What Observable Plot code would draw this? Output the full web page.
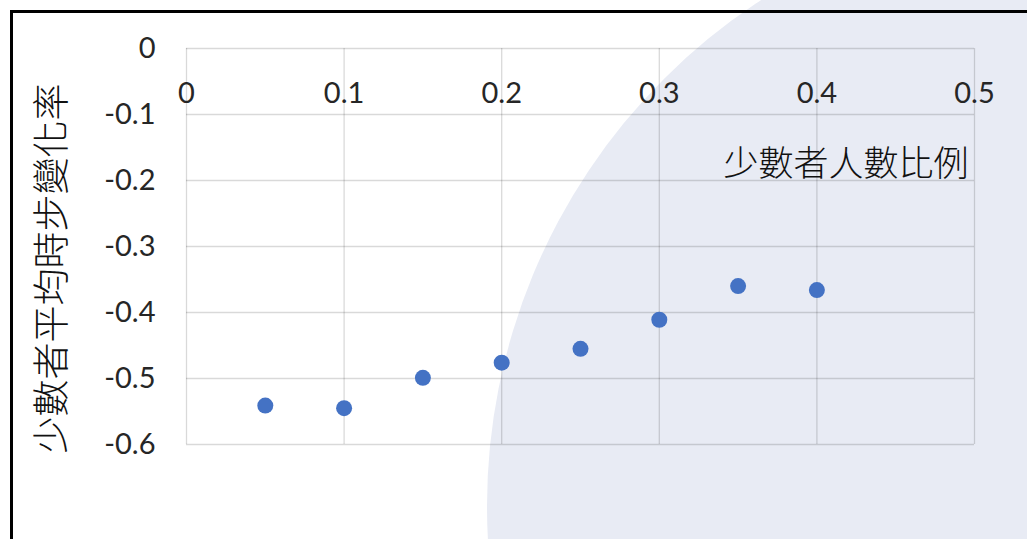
<!DOCTYPE html>
<html>
<head>
<meta charset="utf-8">
<script src="https://cdn.jsdelivr.net/npm/d3@7"></script>
<script src="https://cdn.jsdelivr.net/npm/@observablehq/plot@0.6"></script>
<style>
  html, body { margin: 0; padding: 0; background: #fff; }
  #wrap { position: relative; width: 1027px; height: 539px; overflow: hidden; background: #fff; }
  #tint { position: absolute; left: 487px; top: -98px; width: 1208px; height: 1208px; border-radius: 50%; background: #e8ebf4; }
  #border { position: absolute; left: 10px; top: 10px; width: 1027px; height: 539px; border-left: 3px solid #000; border-top: 3px solid #000; box-sizing: border-box; }
  #chart { position: absolute; left: 0; top: 0; }
</style>
</head>
<body>
<div id="wrap">
  <div id="tint"></div>
  <div id="border"></div>
  <div id="chart"></div>
</div>
<script>
// Data
const minorityRatio = [0.05, 0.10, 0.15, 0.20, 0.25, 0.30, 0.35, 0.40];
const avgStepChange = [-0.541, -0.545, -0.499, -0.476, -0.455, -0.411, -0.360, -0.366];
const xTicks = [0, 0.1, 0.2, 0.3, 0.4, 0.5];
const yTicks = [0, -0.1, -0.2, -0.3, -0.4, -0.5, -0.6];
const xTitle = "少數者人數比例";
const yTitle = "少數者平均時步變化率";

const data = minorityRatio.map((x, i) => ({x, y: avgStepChange[i]}));

const numFont = "Lato, 'Open Sans', sans-serif";
const cjkFont = "'Noto Sans CJK TC', 'Noto Sans CJK SC', sans-serif";

const chart = Plot.plot({
  width: 1027,
  height: 539,
  marginLeft: 186,
  marginRight: 53,
  marginTop: 48,
  marginBottom: 95,
  style: {background: "transparent", fontFamily: numFont, color: "#262626"},
  x: {domain: [0, 0.5]},
  y: {domain: [-0.6, 0]},
  marks: [
    Plot.gridX(xTicks, {stroke: "#000", strokeOpacity: 0.15, strokeWidth: 1.3}),
    Plot.gridY(yTicks, {stroke: "#000", strokeOpacity: 0.15, strokeWidth: 1.3}),
    Plot.axisX({anchor: "top", ticks: xTicks, tickSize: 0, tickPadding: 0, dy: 45,
                lineAnchor: "middle", fontSize: 29, label: null, tickFormat: d => String(d)}),
    Plot.axisY({anchor: "left", ticks: yTicks, tickSize: 0, tickPadding: 31,
                fontSize: 29, label: null, tickFormat: d => String(d)}),
    Plot.dot(data, {x: "x", y: "y", r: 8, fill: "#4472C4", stroke: "none"}),
    Plot.text([xTitle], {frameAnchor: "top-right", textAnchor: "end", lineAnchor: "middle",
                         dx: -6, dy: 116, fontSize: 35, fontFamily: cjkFont, fontWeight: 300, fill: "#111"}),
    Plot.text([yTitle], {frameAnchor: "left", rotate: -90, textAnchor: "middle", lineAnchor: "middle",
                         dx: -133, dy: 22, fontSize: 37, fontFamily: cjkFont, fontWeight: 300, fill: "#111"})
  ]
});
document.getElementById("chart").appendChild(chart);
</script>
</body>
</html>
